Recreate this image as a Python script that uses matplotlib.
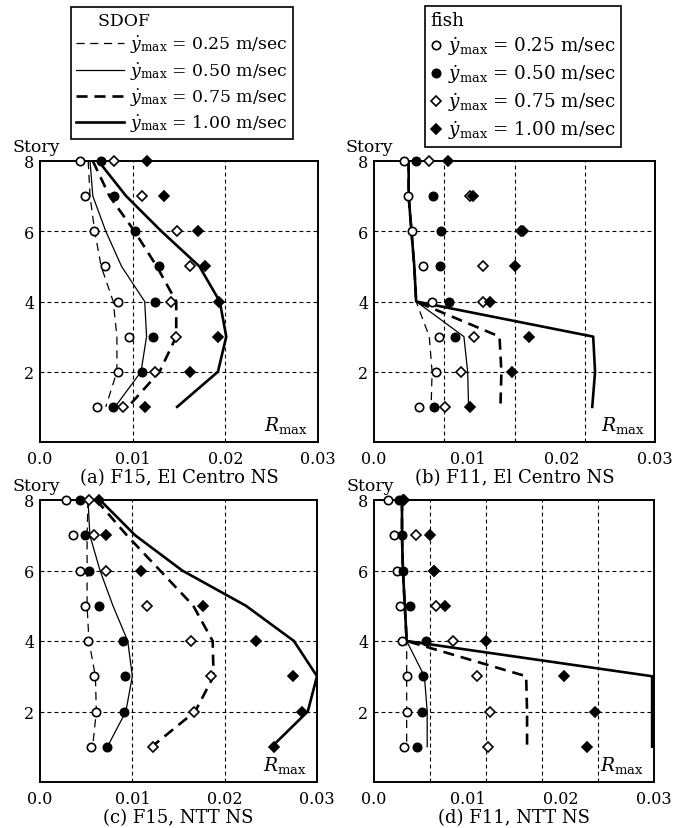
import numpy as np
import matplotlib
matplotlib.use('Agg')
import matplotlib.pyplot as plt
from matplotlib.lines import Line2D

plt.rcParams['font.family'] = ['DejaVu Serif']
plt.rcParams['mathtext.fontset'] = 'dejavuserif'

nan = np.nan
stories = [8, 7, 6, 5, 4, 3, 2, 1]
speeds = ['0.25', '0.50', '0.75', '1.00']

# fish results (markers), one list per peak velocity, story 8 -> 1
fish_a = [[0.0043, 0.0049, 0.0058, 0.0070, 0.0084, 0.0096, 0.0084, 0.0062],
          [0.0066, 0.0080, 0.0103, 0.0128, 0.0124, 0.0122, 0.0110, 0.0079],
          [0.0080, 0.0110, 0.0148, 0.0162, 0.0141, 0.0147, 0.0124, 0.0090],
          [0.0115, 0.0134, 0.0170, 0.0178, 0.0193, 0.0192, 0.0162, 0.0113]]
fish_b = [[0.0032, 0.0036, 0.0041, 0.0052, 0.0062, 0.0069, 0.0066, 0.0048],
          [0.0045, 0.0063, 0.0071, 0.0070, 0.0080, 0.0086, nan, 0.0064],
          [0.0059, 0.0103, 0.0157, 0.0116, 0.0116, 0.0107, 0.0093, 0.0076],
          [0.0079, 0.0106, 0.0159, 0.0151, 0.0124, 0.0166, 0.0147, 0.0103]]
fish_c = [[0.0028, 0.0036, 0.0043, 0.0049, 0.0052, 0.0059, 0.0061, 0.0055],
          [0.0043, 0.0049, 0.0053, 0.0064, 0.0090, 0.0092, 0.0091, 0.0073],
          [0.0053, 0.0059, 0.0072, 0.0116, 0.0163, 0.0185, 0.0167, 0.0122],
          [0.0064, 0.0072, 0.0109, 0.0177, 0.0234, 0.0274, 0.0284, 0.0253]]
fish_d = [[0.0015, 0.0021, 0.0025, 0.0028, 0.0030, 0.0035, 0.0035, 0.0032],
          [0.0027, 0.0030, 0.0031, 0.0039, 0.0056, 0.0053, 0.0051, 0.0046],
          [0.0031, 0.0045, 0.0064, 0.0066, 0.0085, 0.0110, 0.0124, 0.0122],
          [0.0032, 0.0060, 0.0064, 0.0076, 0.0120, 0.0204, 0.0237, 0.0228]]

# SDOF results (lines)
sdof_a = [[0.0052, 0.0054, 0.0059, 0.0066, 0.0079, 0.0083, 0.0083, 0.0071],
          [0.0054, 0.0057, 0.0071, 0.0088, 0.0113, 0.0115, 0.0109, 0.0081],
          [0.0057, 0.0075, 0.0102, 0.0126, 0.0147, 0.0147, 0.0129, 0.0095],
          [0.0063, 0.0093, 0.0131, 0.0172, 0.0194, 0.0201, 0.0192, 0.0148]]
sdof_b = [[0.0037, 0.0037, 0.0040, 0.0043, 0.0045, 0.0059, 0.0062, 0.0061],
          [0.0037, 0.0037, 0.0040, 0.0043, 0.0045, 0.0096, 0.0100, 0.0101],
          [0.0037, 0.0037, 0.0040, 0.0043, 0.0045, 0.0134, 0.0136, 0.0135],
          [0.0037, 0.0037, 0.0040, 0.0043, 0.0045, 0.0234, 0.0236, 0.0233]]
sdof_c = [[0.0052, 0.0051, 0.0051, 0.0051, 0.0053, 0.0060, 0.0061, 0.0057],
          [0.0052, 0.0054, 0.0065, 0.0079, 0.0095, 0.0100, 0.0093, 0.0073],
          [0.0061, 0.0094, 0.0130, 0.0166, 0.0187, 0.0188, 0.0168, 0.0121],
          [0.0065, 0.0103, 0.0154, 0.0223, 0.0275, 0.0300, 0.0290, 0.0251]]
sdof_d = [[0.0030, 0.0030, 0.0031, 0.0033, 0.0035, 0.0035, 0.0035, 0.0035],
          [0.0030, 0.0030, 0.0031, 0.0033, 0.0035, 0.0054, 0.0057, 0.0057],
          [0.0030, 0.0030, 0.0031, 0.0033, 0.0035, 0.0163, 0.0164, 0.0164],
          [0.0030, 0.0030, 0.0031, 0.0033, 0.0035, 0.0298, 0.0298, 0.0298]]

captions = ['(a) F15, El Centro NS', '(b) F11, El Centro NS',
            '(c) F15, NTT NS', '(d) F11, NTT NS']
xticks = [0.0, 0.01, 0.02, 0.03]
xticklabels = ['0.0', '0.01', '0.02', '0.03']
yticks = [2, 4, 6, 8]

# line styles for SDOF, marker styles for fish
line_styles = [dict(color='k', lw=0.9, ls=(0, (6.5, 4.5))),
               dict(color='k', lw=0.9, ls='-'),
               dict(color='k', lw=1.9, ls=(0, (4.2, 2.6))),
               dict(color='k', lw=1.9, ls='-')]
marker_styles = [dict(marker='o', mfc='white', mec='k', ms=6, mew=1.2),
                 dict(marker='o', mfc='k', mec='k', ms=6, mew=1.2),
                 dict(marker='D', mfc='white', mec='k', ms=5.3, mew=1.2),
                 dict(marker='D', mfc='k', mec='k', ms=5.3, mew=1.2)]

W, H = 691, 829
fig = plt.figure(figsize=(W / 100, H / 100), dpi=100)

boxes = [(40, 162, 278, 281), (374, 162, 281, 281),
         (40, 501, 277, 282), (374, 501, 280, 282)]
vgrids = [[0.01, 0.02], [0.0075, 0.015, 0.0225],
          [0.01, 0.02], [0.006, 0.012, 0.018, 0.024]]
fish_all = [fish_a, fish_b, fish_c, fish_d]
sdof_all = [sdof_a, sdof_b, sdof_c, sdof_d]

grid_kw = dict(color='k', lw=0.8, ls=(0, (3.5, 2.8)), zorder=1)

for i in range(4):
    x0, y0, w, h = boxes[i]
    ax = fig.add_axes([x0 / W, 1 - (y0 + h) / H, w / W, h / H])
    ax.set_xlim(0, 0.03)
    ax.set_ylim(0, 8)
    for gx in vgrids[i]:
        ax.axvline(gx, **grid_kw)
    for gy in [2, 4, 6]:
        ax.axhline(gy, **grid_kw)
    for k in range(4):
        ax.plot(sdof_all[i][k], stories, zorder=3, **line_styles[k])
    for k in range(4):
        ax.plot(fish_all[i][k], stories, ls='none', zorder=4, clip_on=False,
                **marker_styles[k])
    ax.set_xticks(xticks)
    ax.set_xticklabels(xticklabels)
    ax.set_yticks(yticks)
    ax.tick_params(length=0, labelsize=11.5)
    ax.tick_params(axis='x', pad=6)
    ax.tick_params(axis='y', pad=4)
    for s in ax.spines.values():
        s.set_linewidth(1.4)
    ax.text(-0.1, 1.036, 'Story', transform=ax.transAxes, ha='left',
            va='baseline', fontsize=12.5)
    ax.text(0.965, 0.025, r'$R_{\rm max}$', transform=ax.transAxes,
            ha='right', va='bottom', fontsize=13.5)
    ax.text(0.5, -0.092, captions[i], transform=ax.transAxes,
            ha='center', va='top', fontsize=13)

sdof_handles = [Line2D([], [], **line_styles[k]) for k in range(4)]
fish_handles = [Line2D([], [], ls='none', **marker_styles[k]) for k in range(4)]
labels = [r'$\dot{y}_{\rm max}$ = ' + s + ' m/sec' for s in speeds]

leg_kw = dict(loc='upper left', frameon=True, fancybox=False, framealpha=1,
              edgecolor='k', borderaxespad=0, alignment='left',
              labelspacing=0.3, borderpad=0.3)
leg1 = fig.legend(sdof_handles, labels, title='    SDOF',
                  bbox_to_anchor=(71 / W, 1 - 8 / H), handlelength=2.8,
                  handletextpad=0.3, fontsize=12.4, title_fontsize=12.4,
                  **leg_kw)
leg2 = fig.legend(fish_handles, labels, title='fish',
                  bbox_to_anchor=(425 / W, 1 - 7 / H), handlelength=0.6,
                  handletextpad=0.35, fontsize=13.2, title_fontsize=13.2,
                  **leg_kw)
for leg in (leg1, leg2):
    leg.get_frame().set_linewidth(1.2)

fig.savefig('out.png', dpi=100)
